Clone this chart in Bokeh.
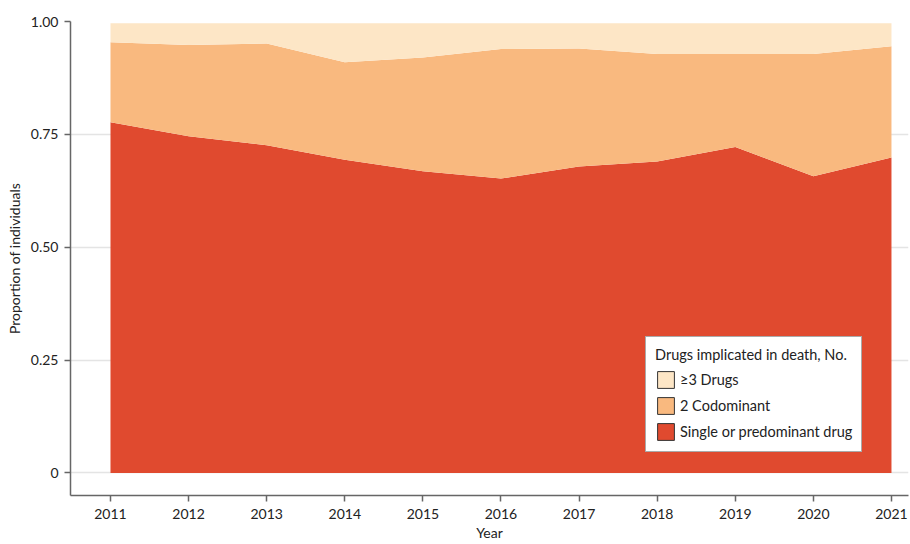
from bokeh.plotting import figure
from bokeh.models import Range1d, FixedTicker, Legend, LegendItem, ColumnDataSource
from bokeh.embed import file_html
from bokeh.resources import INLINE

years = [2011, 2012, 2013, 2014, 2015, 2016, 2017, 2018, 2019, 2020, 2021]
single = [0.777, 0.746, 0.726, 0.694, 0.668, 0.652, 0.679, 0.690, 0.722, 0.657, 0.699]
codominant = [0.177, 0.202, 0.225, 0.216, 0.252, 0.287, 0.261, 0.238, 0.206, 0.271, 0.246]
three_plus = [0.042, 0.048, 0.045, 0.086, 0.076, 0.057, 0.056, 0.068, 0.068, 0.068, 0.051]

labels = ["Single or predominant drug", "2 Codominant", "\u22653 Drugs"]
colors = ["#E04A2F", "#F9B97F", "#FDE6C6"]

FONT = "Lato"

src = ColumnDataSource(dict(year=years, single=single, codominant=codominant, three=three_plus))

p = figure(width=910, height=544, output_backend="svg", toolbar_location=None,
           x_range=Range1d(2010.488, 2021.218), y_range=Range1d(-0.05, 1.0),
           min_border_left=70, min_border_right=2, min_border_top=21, min_border_bottom=49)

rs = p.varea_stack(stackers=["single", "codominant", "three"], x="year", color=colors, source=src)

p.outline_line_color = None
p.xgrid.grid_line_color = None
p.ygrid.grid_line_color = "#e4e4e4"
p.ygrid.grid_line_width = 1.5
p.ygrid.level = "underlay"

p.xaxis.ticker = FixedTicker(ticks=years)
p.yaxis.ticker = FixedTicker(ticks=[0, 0.25, 0.5, 0.75, 1.0])
p.yaxis.major_label_overrides = {0: "0", 0.25: "0.25", 0.5: "0.50", 0.75: "0.75", 1.0: "1.00"}
p.xaxis.axis_label = "Year"
p.yaxis.axis_label = "Proportion of individuals"
for ax in (p.xaxis, p.yaxis):
    ax.axis_line_color = "#666666"
    ax.axis_line_width = 1.5
    ax.major_tick_line_color = "#666666"
    ax.major_tick_line_width = 1.5
    ax.major_tick_out = 6
    ax.major_tick_in = 0
    ax.minor_tick_line_color = None
    ax.major_label_text_font = FONT
    ax.major_label_text_font_size = "14px"
    ax.major_label_text_color = "#222222"
    ax.axis_label_text_font = FONT
    ax.axis_label_text_font_size = "14px"
    ax.axis_label_text_font_style = "normal"
    ax.axis_label_text_color = "#222222"
p.xaxis.major_label_standoff = 7
p.xaxis.axis_label_standoff = 2
p.yaxis.major_label_standoff = 6

# legend swatches with outlines (drawn outside visible range)
dummy = {}
for lab, col in zip(labels, colors):
    dummy[lab] = p.quad(left=[2000], right=[2000.5], bottom=[0.1], top=[0.2],
                        fill_color=col, line_color="#333333", line_width=1)

items = [LegendItem(label=l, renderers=[dummy[l]]) for l in reversed(labels)]
legend = Legend(items=items, location=(575, 43), title="Drugs implicated in death, No.",
                title_text_font=FONT, title_text_font_size="14.5px", title_text_font_style="normal",
                title_text_color="#222222", label_text_font=FONT, label_text_font_size="14.5px",
                label_text_color="#222222", border_line_color="#555555", border_line_width=1,
                background_fill_color="white", background_fill_alpha=1.0,
                glyph_width=21, glyph_height=21, spacing=5, padding=9, label_standoff=4,
                title_standoff=6, margin=0)
p.add_layout(legend, "center")

open("out.html", "w").write(file_html(p, INLINE))
